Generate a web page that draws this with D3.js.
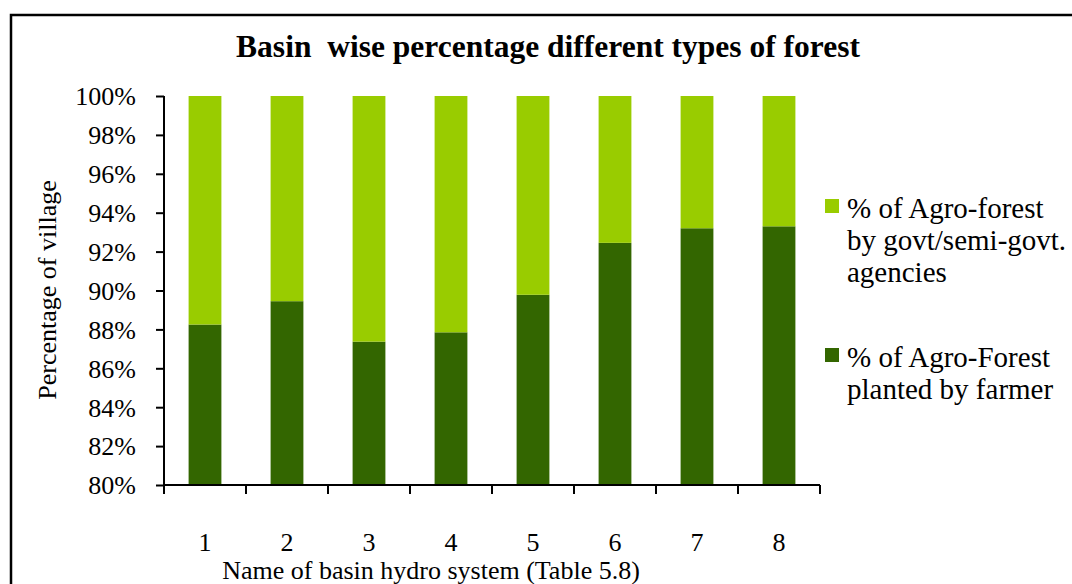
<!DOCTYPE html>
<html>
<head>
<meta charset="utf-8">
<script src="https://d3js.org/d3.v7.min.js"></script>
<style>
  body { margin: 0; background: #fff; }
  text { font-family: "Liberation Serif", "Times New Roman", serif; fill: #000; white-space: pre; }
</style>
</head>
<body>
<div id="vis"></div>
<script>
// basins on the x axis
const basins = ["1", "2", "3", "4", "5", "6", "7", "8"]
// % of agro-forest planted by farmer (bottom part of each bar)
const farmerPct = [88.25, 89.45, 87.37, 87.85, 89.78, 92.45, 93.2, 93.3]
// % of agro-forest by govt/semi-govt agencies (top part)
const govtPct = farmerPct.map(v => 100 - v)
const yTicks = [80, 82, 84, 86, 88, 90, 92, 94, 96, 98, 100]

const colors = ["#336600", "#99cc00"]
const serif = '"Liberation Serif", "Times New Roman", serif'

const W = 1072, H = 584
const margin = { left: 164, top: 96, right: 252, bottom: 99 }
const width = W - margin.left - margin.right
const height = H - margin.top - margin.bottom

const svg = d3.select("#vis").append("svg")
  .attr("width", W)
  .attr("height", H)

// outer frame (only top and left edges visible)
svg.append("path")
  .attr("d", `M11,${H + 5}V15H${W + 5}`)
  .attr("fill", "none")
  .attr("stroke", "#000")
  .attr("stroke-width", 2.5)

svg.append("text")
  .attr("x", 548).attr("y", 57)
  .attr("text-anchor", "middle")
  .style("font-size", "31.5px")
  .style("font-weight", "bold")
  .text("Basin  wise percentage different types of forest")

const g = svg.append("g").attr("transform", `translate(${margin.left},${margin.top})`)

const x = d3.scaleBand().domain(basins).range([0, width]).paddingInner(0.6).paddingOuter(0.3)
const xb = d3.scaleBand().domain(basins).range([0, width])
const y = d3.scaleLinear().domain([80, 100]).range([height, 0])

// stacked data
const rows = basins.map((b, i) => ({ basin: b, farmer: farmerPct[i], govt: govtPct[i] }))
const stack = d3.stack().keys(["farmer", "govt"])(rows)

g.append("g").selectAll("g")
  .data(stack)
  .join("g")
  .attr("fill", (d, i) => colors[i])
  .selectAll("rect")
  .data(d => d)
  .join("rect")
  .attr("x", d => x(d.data.basin))
  .attr("width", x.bandwidth())
  .attr("y", d => y(d[1]))
  .attr("height", d => y(Math.max(d[0], 80)) - y(d[1]))

// y axis
const yAxis = g.append("g")
  .call(d3.axisLeft(y).tickValues(yTicks).tickFormat(d => d + "%").tickSize(8).tickPadding(20))
yAxis.attr("font-family", serif).attr("font-size", 26)
yAxis.select(".domain").attr("stroke-width", 2).attr("d", `M0,${height}V0`)
yAxis.selectAll(".tick line").attr("stroke-width", 2)
yAxis.selectAll("text")
  .style("font-family", serif)
  .style("font-size", "26px")
  .attr("dy", "0.34em")

// x axis with ticks between categories
const xAxis = g.append("g").attr("transform", `translate(0,${height})`)
xAxis.append("line").attr("x1", 0).attr("x2", width).attr("stroke", "#000").attr("stroke-width", 2)
xAxis.selectAll(".bt")
  .data(basins.concat(["end"]))
  .join("line")
  .attr("class", "bt")
  .attr("x1", (d, i) => i * xb.step()).attr("x2", (d, i) => i * xb.step())
  .attr("y1", 0).attr("y2", 9)
  .attr("stroke", "#000").attr("stroke-width", 2)
xAxis.selectAll(".lbl")
  .data(basins)
  .join("text")
  .attr("class", "lbl")
  .attr("x", d => xb(d) + xb.bandwidth() / 2)
  .attr("y", 66)
  .attr("text-anchor", "middle")
  .style("font-size", "26px")
  .text(d => d)

svg.append("text")
  .attr("x", margin.left + width / 2 - 61).attr("y", 579)
  .attr("text-anchor", "middle")
  .style("font-size", "26px")
  .text("Name of basin hydro system (Table 5.8)")

svg.append("text")
  .attr("transform", `translate(56,290) rotate(-90)`)
  .attr("text-anchor", "middle")
  .style("font-size", "26px")
  .text("Percentage of village")

// legend
const legendItems = [
  { color: colors[1], lines: ["% of Agro-forest", "by govt/semi-govt.", "agencies"], top: 218 },
  { color: colors[0], lines: ["% of Agro-Forest", "planted by farmer"], top: 367 }
]
const lg = svg.append("g")
legendItems.forEach(item => {
  lg.append("rect")
    .attr("x", 825).attr("y", item.top - 19)
    .attr("width", 14).attr("height", 14)
    .attr("fill", item.color)
  item.lines.forEach((t, j) => {
    lg.append("text")
      .attr("x", 847).attr("y", item.top + j * 32)
      .style("font-size", "29px")
      .text(t)
  })
})
</script>
</body>
</html>
